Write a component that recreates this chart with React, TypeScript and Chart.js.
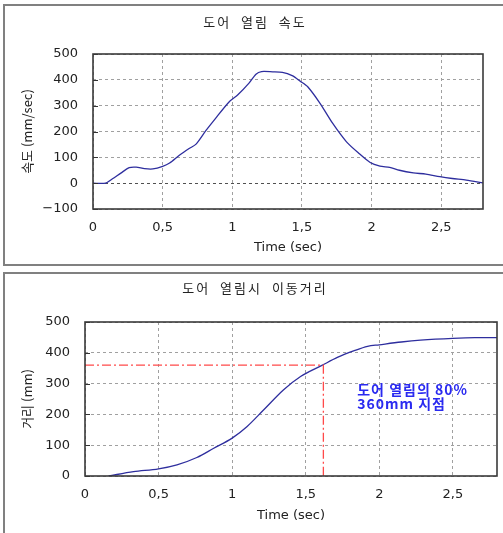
import React, { useEffect, useRef } from 'react';
import { Chart, registerables } from 'chart.js';
Chart.register(...registerables);

const FONT = "'DejaVu Sans', 'Noto Sans CJK KR', sans-serif";
const KFONT = "'Noto Sans CJK KR', 'DejaVu Sans', sans-serif";

// ---- chart 1: door opening speed ----
const velTitle = '도어 열림 속도';
const velYTitle = '속도 (mm/sec)';
const xTitle = 'Time (sec)';
const tVel = [0, 0.09, 0.14, 0.2, 0.26, 0.31, 0.37, 0.43, 0.5, 0.55, 0.62, 0.69, 0.74, 0.81, 0.88, 0.98, 1.04, 1.12, 1.17, 1.21, 1.29, 1.36, 1.43, 1.49, 1.54, 1.63, 1.72, 1.82, 1.91, 1.99, 2.06, 2.13, 2.2, 2.3, 2.39, 2.49, 2.58, 2.68, 2.8];
const vel = [0, 0, 17, 39, 60, 62, 56, 55, 65, 78, 108, 134, 151, 203, 251, 316, 342, 387, 422, 432, 431, 429, 416, 394, 374, 309, 232, 160, 115, 80, 66, 61, 50, 40, 35, 25, 18, 12, 1];
const velYTicks = ['−100', '0', '100', '200', '300', '400', '500'];

// ---- chart 2: travel distance ----
const distTitle = '도어 열림시 이동거리';
const distYTitle = '거리 (mm)';
const tDist = [0.16, 0.33, 0.5, 0.625, 0.76, 0.875, 1.0, 1.1, 1.215, 1.35, 1.465, 1.61, 1.715, 1.83, 1.92, 2.0, 2.15, 2.28, 2.5, 2.65, 2.8];
const dist = [0, 14, 23, 36, 60, 90, 123, 160, 215, 280, 323, 359, 385, 407, 421, 426, 435, 441, 447, 449, 449];
const distYTicks = ['0', '100', '200', '300', '400', '500'];
const markT = 1.62;
const markD = 360;
const noteLines = ['도어 열림의 80%', '360mm 지점'];
const noteT = 1.85;
const noteD = [279, 236];

const xTickLabels = ['0', '0,5', '1', '1,5', '2', '2,5'];

function framePlugin(title: string, tx: number, ty: number) {
  return {
    id: 'frame',
    afterDatasetsDraw(chart: any) {
      const { ctx, chartArea: a, scales } = chart;
      ctx.save();
      ctx.strokeStyle = '#333';
      ctx.lineWidth = 1;
      scales.y.ticks.forEach((t: any) => {
        const py = Math.round(scales.y.getPixelForValue(t.value)) + 0.5;
        ctx.beginPath();
        ctx.moveTo(a.left, py);
        ctx.lineTo(a.left + 5, py);
        ctx.stroke();
      });
      ctx.strokeStyle = '#3a3a3a';
      ctx.lineWidth = 1.6;
      ctx.strokeRect(a.left, a.top, a.right - a.left, a.bottom - a.top);
      ctx.font = `13px ${KFONT}`;
      ctx.fillStyle = '#222';
      ctx.textAlign = 'center';
      ctx.textBaseline = 'middle';
      (ctx as any).letterSpacing = '2px';
      (ctx as any).wordSpacing = '5px';
      ctx.fillText(title, tx, ty);
      ctx.restore();
    },
  };
}

const notePlugin = {
  id: 'note',
  afterDatasetsDraw(chart: any) {
    const { ctx, scales } = chart;
    ctx.save();
    ctx.font = `bold 14px ${KFONT}`;
    ctx.fillStyle = '#2a2af0';
    ctx.textAlign = 'left';
    ctx.textBaseline = 'middle';
    (ctx as any).letterSpacing = '1px';
    noteLines.forEach((s, i) => {
      ctx.fillText(s, scales.x.getPixelForValue(noteT), scales.y.getPixelForValue(noteD[i]));
    });
    ctx.restore();
  },
};

function baseOptions(opts: {
  yMin: number; yMax: number; yLabels: string[]; yTitle: string;
  yWidth: number; xHeight: number; padRight: number; padTop: number;
  xTickPad: number; xTitlePad: number; zeroDark: boolean;
}) {
  const gridColor = '#a0a0a0';
  return {
    responsive: false,
    animation: false,
    layout: { padding: { top: opts.padTop, right: opts.padRight, left: 0, bottom: 0 } },
    plugins: { legend: { display: false }, tooltip: { enabled: false }, title: { display: false } },
    elements: { point: { radius: 0 } },
    scales: {
      x: {
        type: 'linear',
        min: 0,
        max: 2.8,
        afterFit(s: any) { s.height = opts.xHeight; },
        ticks: {
          stepSize: 0.5,
          includeBounds: false,
          padding: opts.xTickPad,
          color: '#222',
          font: { family: FONT, size: 13 },
          maxRotation: 0,
          callback: (_v: any, i: number) => xTickLabels[i],
        },
        grid: { color: gridColor, lineWidth: 1, drawTicks: false },
        border: { display: false, dash: [3, 3] },
        title: {
          display: true, text: xTitle, color: '#222',
          font: { family: FONT, size: 13 }, padding: { top: 0, bottom: opts.xTitlePad },
        },
      },
      y: {
        type: 'linear',
        min: opts.yMin,
        max: opts.yMax,
        afterFit(s: any) { s.width = opts.yWidth; },
        ticks: {
          stepSize: 100,
          padding: 15,
          color: '#222',
          font: { family: FONT, size: 13 },
          callback: (_v: any, i: number) => opts.yLabels[i],
        },
        grid: {
          color: (c: any) => (opts.zeroDark && c.tick && c.tick.value === 0 ? '#505050' : gridColor),
          lineWidth: 1,
          drawTicks: false,
        },
        border: { display: false, dash: [3, 3] },
        title: {
          display: true, text: opts.yTitle, color: '#222',
          font: { family: KFONT, size: 13 }, padding: { top: 19, bottom: 0 },
        },
      },
    },
  };
}

export default function App() {
  const c1 = useRef<HTMLCanvasElement>(null);
  const c2 = useRef<HTMLCanvasElement>(null);

  useEffect(() => {
    const ch1 = new Chart(c1.current as HTMLCanvasElement, {
      type: 'scatter',
      data: {
        datasets: [{
          data: tVel.map((t, i) => ({ x: t, y: vel[i] })),
          showLine: true,
          borderColor: '#2e2e9e',
          borderWidth: 1.3,
          tension: 0.25,
          pointRadius: 0,
        }],
      },
      options: baseOptions({
        yMin: -100, yMax: 500, yLabels: velYTicks, yTitle: velYTitle,
        yWidth: 93, xHeight: 59, padRight: 20, padTop: 54,
        xTickPad: 11, xTitlePad: 13, zeroDark: true,
      }) as any,
      plugins: [framePlugin(velTitle, 255, 22)],
    });
    const ch2 = new Chart(c2.current as HTMLCanvasElement, {
      type: 'scatter',
      data: {
        datasets: [
          {
            data: [{ x: 0, y: markD }, { x: markT, y: markD }, { x: markT, y: 0 }],
            showLine: true,
            borderColor: '#ff4a4a',
            borderWidth: 1.3,
            borderDash: [9, 3, 2, 3],
            pointRadius: 0,
          },
          {
            data: tDist.map((t, i) => ({ x: t, y: dist[i] })),
            showLine: true,
            borderColor: '#2e2e9e',
            borderWidth: 1.3,
            cubicInterpolationMode: 'monotone',
            pointRadius: 0,
          },
        ],
      },
      options: baseOptions({
        yMin: 0, yMax: 500, yLabels: distYTicks, yTitle: distYTitle,
        yWidth: 85, xHeight: 57, padRight: 6, padTop: 54,
        xTickPad: 11, xTitlePad: 10, zeroDark: false,
      }) as any,
      plugins: [framePlugin(distTitle, 255, 20), notePlugin],
    });
    return () => {
      ch1.destroy();
      ch2.destroy();
    };
  }, []);

  return (
    <div style={{ position: 'fixed', left: 0, top: 0, width: 503, height: 533, overflow: 'hidden', background: '#fff' }}>
      <canvas ref={c1} width={503} height={268} style={{ position: 'absolute', left: 0, top: 0 }} />
      <canvas ref={c2} width={503} height={265} style={{ position: 'absolute', left: 0, top: 268 }} />
      <div style={{ position: 'absolute', left: 3, top: 4, width: 540, height: 262, boxSizing: 'border-box', border: '2px solid #808080', pointerEvents: 'none' }} />
      <div style={{ position: 'absolute', left: 3, top: 272, width: 540, height: 300, boxSizing: 'border-box', border: '2px solid #808080', pointerEvents: 'none' }} />
    </div>
  );
}
